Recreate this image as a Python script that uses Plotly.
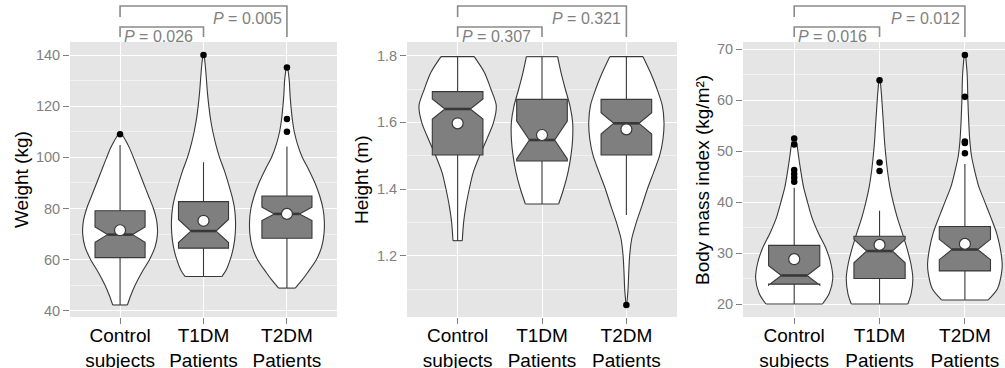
import plotly.graph_objects as go

FONT = "Liberation Sans, Arial, sans-serif"
CATS = ["Control<br>subjects", "T1DM<br>Patients", "T2DM<br>Patients"]
POS = [1, 2, 3]

# ---------------- Weight (kg) ----------------
w_q1 = [60.8, 64.5, 68.4]
w_med = [69.8, 71.2, 77.9]
w_q3 = [79.1, 82.7, 84.9]
w_lo = [42.3, 53.4, 48.9]
w_hi = [104.8, 98.1, 104.2]
w_notch = [3.0, 4.5, 2.6]
w_mean = [71.5, 75.2, 77.9]
w_out_grp = [0, 1, 2, 2, 2]
w_out_val = [109.0, 140.0, 135.1, 115.0, 110.0]
w_vio_ctrl_y = [42.3, 46, 50, 55, 60, 65, 70, 75, 80, 85, 90, 95, 100, 104, 107, 109.4]
w_vio_ctrl_w = [0.088, 0.128, 0.18, 0.26, 0.352, 0.42, 0.448, 0.44, 0.4, 0.34, 0.28, 0.22, 0.16, 0.108, 0.06, 0.012]
w_vio_t1_y = [53.4, 56, 60, 65, 70, 75, 80, 85, 90, 95, 100, 105, 110, 115, 120, 125, 130, 135, 140]
w_vio_t1_w = [0.22, 0.272, 0.32, 0.36, 0.38, 0.384, 0.372, 0.34, 0.296, 0.248, 0.192, 0.148, 0.112, 0.084, 0.064, 0.048, 0.036, 0.024, 0.008]
w_vio_t2_y = [48.9, 52, 55, 60, 65, 70, 75, 80, 85, 90, 95, 100, 105, 110, 115, 120, 125, 130, 135.3]
w_vio_t2_w = [0.1, 0.18, 0.248, 0.352, 0.416, 0.444, 0.448, 0.432, 0.392, 0.336, 0.264, 0.184, 0.128, 0.088, 0.064, 0.048, 0.036, 0.028, 0.008]
w_p = ["0.026", "0.005"]

# ---------------- Height (m) ----------------
h_q1 = [1.502, 1.484, 1.502]
h_med = [1.640, 1.547, 1.597]
h_q3 = [1.692, 1.669, 1.669]
h_lo = [1.245, 1.355, 1.322]
h_hi = [1.797, 1.797, 1.797]
h_notch = [0.030, 0.057, 0.032]
h_mean = [1.597, 1.562, 1.579]
h_out_grp = [2]
h_out_val = [1.052]
h_vio_ctrl_y = [1.245, 1.30, 1.35, 1.40, 1.45, 1.50, 1.55, 1.60, 1.65, 1.70, 1.75, 1.797]
h_vio_ctrl_w = [0.055, 0.071, 0.099, 0.138, 0.185, 0.26, 0.347, 0.426, 0.458, 0.394, 0.316, 0.197]
h_vio_t1_y = [1.355, 1.40, 1.45, 1.50, 1.55, 1.60, 1.65, 1.70, 1.75, 1.797]
h_vio_t1_w = [0.197, 0.256, 0.308, 0.343, 0.363, 0.363, 0.331, 0.276, 0.225, 0.185]
h_vio_t2_y = [1.052, 1.10, 1.15, 1.20, 1.25, 1.30, 1.35, 1.40, 1.45, 1.50, 1.55, 1.60, 1.65, 1.70, 1.75, 1.797]
h_vio_t2_w = [0.004, 0.02, 0.028, 0.039, 0.063, 0.118, 0.185, 0.249, 0.323, 0.394, 0.434, 0.446, 0.426, 0.363, 0.284, 0.197]
h_p = ["0.307", "0.321"]

# ---------------- Body mass index (kg/m2) ----------------
b_q1 = [23.9, 25.0, 26.5]
b_med = [25.6, 30.4, 30.7]
b_q3 = [31.5, 33.3, 35.2]
b_lo = [20.0, 20.0, 20.8]
b_hi = [42.8, 38.3, 47.5]
b_notch = [1.9, 2.3, 2.0]
b_mean = [28.8, 31.6, 31.8]
b_out_grp = [0, 0, 0, 0, 0, 0, 1, 1, 1, 2, 2, 2, 2, 2]
b_out_val = [52.5, 51.3, 46.3, 45.5, 44.8, 44.0, 63.9, 47.8, 46.1, 68.9, 60.7, 51.9, 51.6, 49.6]
b_vio_ctrl_y = [20.0, 22, 25, 28, 31, 34, 37, 40, 43, 46, 49, 51, 52.9]
b_vio_ctrl_w = [0.331, 0.409, 0.452, 0.429, 0.37, 0.281, 0.207, 0.156, 0.109, 0.078, 0.051, 0.035, 0.008]
b_vio_t1_y = [20, 22, 25, 28, 31, 34, 37, 40, 43, 46, 49, 52, 55, 58, 61, 64]
b_vio_t1_w = [0.331, 0.37, 0.39, 0.366, 0.32, 0.265, 0.207, 0.16, 0.121, 0.094, 0.074, 0.058, 0.047, 0.035, 0.023, 0.008]
b_vio_t2_y = [20.8, 23, 26, 28, 31, 34, 37, 40, 43, 46, 49, 52, 55, 60, 65, 68.9]
b_vio_t2_w = [0.273, 0.382, 0.429, 0.437, 0.413, 0.37, 0.304, 0.234, 0.164, 0.117, 0.078, 0.058, 0.047, 0.035, 0.027, 0.008]
b_p = ["0.016", "0.012"]

Y_TITLES = ["Weight (kg)", "Height (m)", "Body mass index (kg/m²)"]

# ---------------- styling ----------------
W, H = 1005, 368
BG = "#E5E5E5"
EDGE = "#383838"
BOXFILL = "#7F7F7F"
GREYTXT = "#7F7F7F"
BR = "#8A8A8A"

def py(px):
    return 1 - px / H

X_DOM = [[70 / W, 337 / W], [407 / W, 677 / W], [743 / W, 1.0]]
X_RNG = [[0.4, 3.6], [0.4, 3.6], [0.4, 3.47]]
Y_DOM = [py(317), py(42)]
Y_RNG = [[37.6, 145.08], [1.016, 1.841], [17.45, 71.43]]
Y_DT = [(20, 40, 10), (0.2, 1.2, 0.1), (10, 20, 5)]
TITLE_X = [22, 362, 703]

panels = [
    dict(q1=w_q1, med=w_med, q3=w_q3, lo=w_lo, hi=w_hi, notch=w_notch, mean=w_mean,
         og=w_out_grp, ov=w_out_val,
         vio=[(w_vio_ctrl_y, w_vio_ctrl_w), (w_vio_t1_y, w_vio_t1_w), (w_vio_t2_y, w_vio_t2_w)],
         p=w_p),
    dict(q1=h_q1, med=h_med, q3=h_q3, lo=h_lo, hi=h_hi, notch=h_notch, mean=h_mean,
         og=h_out_grp, ov=h_out_val,
         vio=[(h_vio_ctrl_y, h_vio_ctrl_w), (h_vio_t1_y, h_vio_t1_w), (h_vio_t2_y, h_vio_t2_w)],
         p=h_p),
    dict(q1=b_q1, med=b_med, q3=b_q3, lo=b_lo, hi=b_hi, notch=b_notch, mean=b_mean,
         og=b_out_grp, ov=b_out_val,
         vio=[(b_vio_ctrl_y, b_vio_ctrl_w), (b_vio_t1_y, b_vio_t1_w), (b_vio_t2_y, b_vio_t2_w)],
         p=b_p),
]

BOX_W = 0.6
fig = go.Figure()
layout = dict(template="none", width=W, height=H, autosize=False,
              margin=dict(l=0, r=0, t=0, b=0, pad=0, autoexpand=False),
              paper_bgcolor="white", plot_bgcolor=BG, showlegend=False,
              font=dict(family=FONT))
annotations = []
shapes = []

for i, pd_ in enumerate(panels):
    n = i + 1
    bx = "x" if n == 1 else f"x{n}"
    by = "y" if n == 1 else f"y{n}"
    ox, oy = f"x{n + 3}", f"y{n + 3}"

    # violins (base subplot, drawn below the overlay subplot)
    for c, (vy, vw) in zip(POS, pd_["vio"]):
        left = [c - w for w in vw]
        right = [c + w for w in vw]
        fig.add_trace(go.Scatter(x=left, y=vy, mode="lines",
                                 line=dict(color=EDGE, width=1.1, shape="spline", smoothing=0.8),
                                 xaxis=bx, yaxis=by, hoverinfo="skip"))
        fig.add_trace(go.Scatter(x=right, y=vy, mode="lines", fill="tonextx", fillcolor="white",
                                 line=dict(color=EDGE, width=1.1, shape="spline", smoothing=0.8),
                                 xaxis=bx, yaxis=by, hoverinfo="skip"))
        fig.add_trace(go.Scatter(x=[left[0], right[0], None, left[-1], right[-1]],
                                 y=[vy[0], vy[0], None, vy[-1], vy[-1]], mode="lines",
                                 line=dict(color=EDGE, width=1.1),
                                 xaxis=bx, yaxis=by, hoverinfo="skip"))

    # notched boxes (overlay subplot)
    fig.add_trace(go.Box(x=POS, q1=pd_["q1"], median=pd_["med"], q3=pd_["q3"],
                         lowerfence=pd_["lo"], upperfence=pd_["hi"], notchspan=pd_["notch"],
                         notched=True, notchwidth=0.25, boxpoints=False, width=BOX_W,
                         whiskerwidth=0, fillcolor=BOXFILL, line=dict(color=EDGE, width=1.1),
                         xaxis=ox, yaxis=oy, hoverinfo="skip"))
    # thick median
    mx, my = [], []
    for c, m in zip(POS, pd_["med"]):
        mx += [c - BOX_W / 4, c + BOX_W / 4, None]
        my += [m, m, None]
    fig.add_trace(go.Scatter(x=mx, y=my, mode="lines", line=dict(color=EDGE, width=2.6),
                             xaxis=ox, yaxis=oy, hoverinfo="skip"))
    # outliers
    fig.add_trace(go.Scatter(x=[POS[g] for g in pd_["og"]], y=pd_["ov"], mode="markers",
                             marker=dict(color="black", size=6.5, line=dict(width=0)),
                             xaxis=ox, yaxis=oy, hoverinfo="skip"))
    # means
    fig.add_trace(go.Scatter(x=POS, y=pd_["mean"], mode="markers",
                             marker=dict(color="white", size=11, line=dict(color=EDGE, width=1.2)),
                             xaxis=ox, yaxis=oy, hoverinfo="skip"))

    dt, t0, mdt = Y_DT[i]
    layout["xaxis" if n == 1 else f"xaxis{n}"] = dict(
        domain=X_DOM[i], range=X_RNG[i], anchor=by, tickmode="array", tickvals=POS, ticktext=CATS,
        showgrid=True, gridcolor="white", gridwidth=1.2, zeroline=False, showline=False,
        ticks="outside", ticklen=6, tickcolor=GREYTXT, tickwidth=1, automargin=False,
        ticklabelstandoff=-5,
        tickfont=dict(size=19, color="black", family=FONT), fixedrange=True)
    layout["yaxis" if n == 1 else f"yaxis{n}"] = dict(
        domain=Y_DOM, range=Y_RNG[i], anchor=bx, tick0=t0, dtick=dt,
        showgrid=True, gridcolor="white", gridwidth=1.2, zeroline=False, showline=False,
        ticks="outside", ticklen=6, tickcolor=GREYTXT, tickwidth=1, automargin=False,
        tickfont=dict(size=14.5, color=GREYTXT, family=FONT),
        minor=dict(tick0=t0, dtick=mdt, showgrid=True, gridcolor="#F2F2F2", gridwidth=0.7, ticks=""),
        fixedrange=True)
    layout[f"xaxis{n + 3}"] = dict(domain=X_DOM[i], range=X_RNG[i], overlaying=bx, anchor=by,
                                   visible=False, showgrid=False, automargin=False, fixedrange=True)
    layout[f"yaxis{n + 3}"] = dict(domain=Y_DOM, range=Y_RNG[i], overlaying=by, anchor=bx,
                                   visible=False, showgrid=False, automargin=False, fixedrange=True)

    # y title
    annotations.append(dict(text=Y_TITLES[i], xref="paper", yref="paper", x=TITLE_X[i] / W,
                            y=py(180), textangle=-90, showarrow=False, xanchor="center",
                            yanchor="middle", font=dict(size=19, color="black", family=FONT)))
    # significance brackets
    c0, c1, c2 = POS
    shapes.append(dict(type="path", xref=bx, yref="paper", line=dict(color=BR, width=1.6),
                       path=f"M {c0},{py(17)} L {c0},{py(6)} L {c2},{py(6)} L {c2},{py(37)}"))
    shapes.append(dict(type="path", xref=bx, yref="paper", line=dict(color=BR, width=1.6),
                       path=f"M {c0},{py(37)} L {c0},{py(27)} L {c1},{py(27)} L {c1},{py(37)}"))
    annotations.append(dict(text=f"<i>P</i> = {pd_['p'][0]}", xref=bx, yref="paper", x=c0,
                            xshift=2, y=py(36), xanchor="left", yanchor="middle", showarrow=False,
                            font=dict(size=16, color=GREYTXT, family=FONT)))
    annotations.append(dict(text=f"<i>P</i> = {pd_['p'][1]}", xref=bx, yref="paper", x=c2,
                            xshift=-3, y=py(18.5), xanchor="right", yanchor="middle", showarrow=False,
                            font=dict(size=16, color=GREYTXT, family=FONT)))

layout["annotations"] = annotations
layout["shapes"] = shapes
fig.update_layout(**layout)
fig.write_html("out.html", config={"displayModeBar": False},
               post_script="document.body.style.margin='0px';")
